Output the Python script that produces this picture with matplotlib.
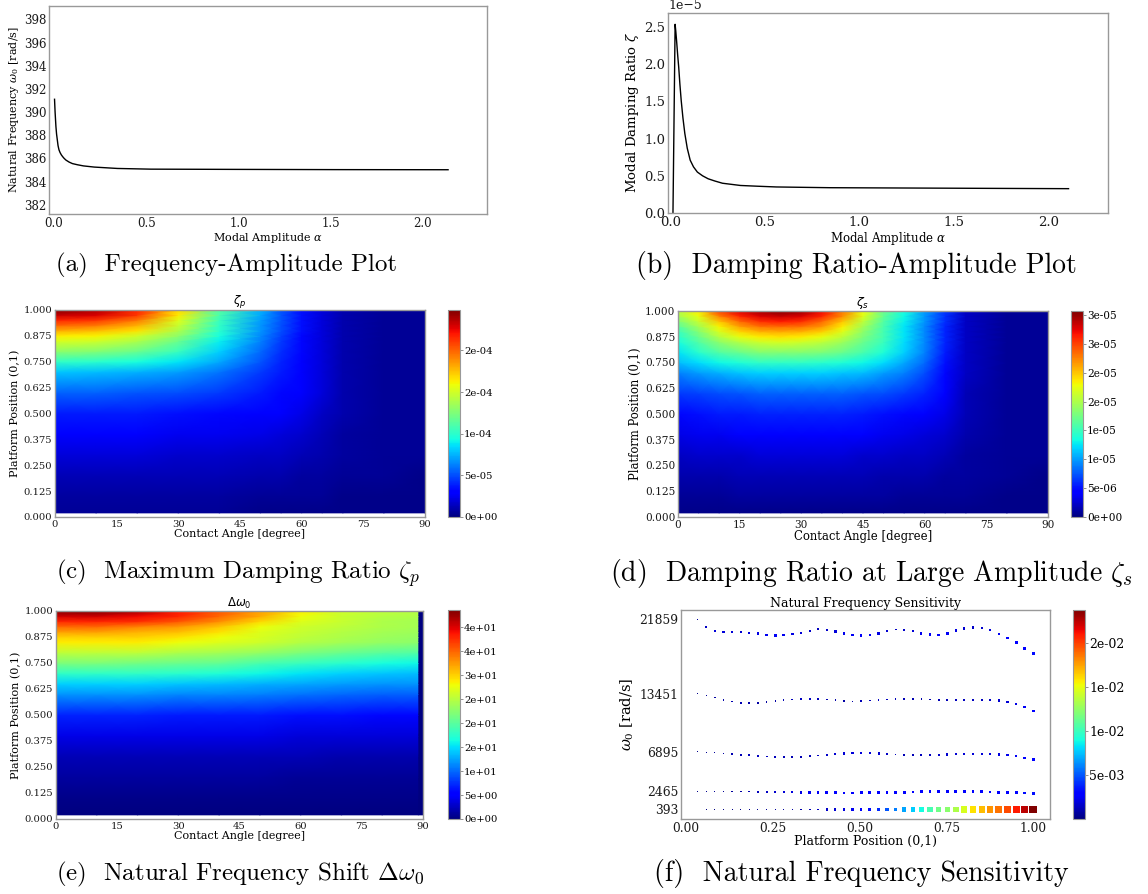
import numpy as np
import matplotlib
matplotlib.use("Agg")
import matplotlib.pyplot as plt

plt.rcParams['font.family'] = 'DejaVu Serif'
plt.rcParams['mathtext.fontset'] = 'dejavuserif'

# ---------------- data ----------------
# (a) frequency vs amplitude
AMP_A = [0.003, 0.006, 0.0105, 0.014, 0.018, 0.022, 0.027, 0.033, 0.040, 0.047, 0.055, 0.065,
         0.082, 0.100, 0.127, 0.160, 0.218, 0.344, 0.525, 0.977, 1.52, 2.136]
FREQ_A = [391.1, 390.0, 388.75, 388.1, 387.6, 387.1, 386.74, 386.5, 386.3, 386.15, 386.0, 385.85,
          385.68, 385.55, 385.45, 385.35, 385.25, 385.13, 385.07, 385.05, 385.03, 385.02]

# (b) damping ratio vs amplitude (units of 1e-5)
AMP_B = [0.0133, 0.0247, 0.028, 0.0323, 0.038, 0.0437, 0.050, 0.057, 0.066, 0.076, 0.089, 0.1045,
         0.122, 0.1425, 0.17, 0.1995, 0.235, 0.2755, 0.3705, 0.46, 0.5604, 0.70, 0.8452, 1.225, 1.605, 2.108]
DAMP_B = [0.0, 2.536, 2.45, 2.32, 2.13, 1.96, 1.73, 1.51, 1.28, 1.07, 0.87, 0.71,
          0.62, 0.55, 0.50, 0.46, 0.43, 0.40, 0.37, 0.36, 0.35, 0.345, 0.34, 0.336, 0.332, 0.327]

# heat maps: platform position nodes (bottom -> top)
POS_HM = [0.02, 0.1, 0.2, 0.3, 0.4, 0.5, 0.6, 0.7, 0.75, 0.8, 0.85, 0.875, 0.9, 0.925, 0.95, 0.975, 1.0]

# (c) maximum damping ratio, as fraction of its peak
ANG_C = [0, 10, 20, 30, 40, 50, 55, 60, 65, 70, 80, 90]
ZETA_P_PEAK = 2.485e-4
ZETA_P_REL = [
    [0.02, 0.02, 0.02, 0.02, 0.02, 0.01, 0.01, 0.01, 0.01, 0.01, 0.01, 0.01],
    [0.03, 0.03, 0.03, 0.03, 0.03, 0.02, 0.02, 0.02, 0.02, 0.01, 0.01, 0.01],
    [0.05, 0.05, 0.05, 0.05, 0.05, 0.04, 0.04, 0.03, 0.03, 0.02, 0.02, 0.01],
    [0.08, 0.08, 0.08, 0.07, 0.07, 0.06, 0.06, 0.05, 0.04, 0.03, 0.02, 0.02],
    [0.11, 0.11, 0.11, 0.10, 0.10, 0.09, 0.08, 0.07, 0.05, 0.03, 0.02, 0.02],
    [0.15, 0.15, 0.15, 0.14, 0.13, 0.12, 0.11, 0.09, 0.06, 0.04, 0.02, 0.02],
    [0.22, 0.22, 0.21, 0.20, 0.18, 0.15, 0.13, 0.11, 0.08, 0.04, 0.02, 0.02],
    [0.32, 0.31, 0.30, 0.28, 0.24, 0.18, 0.15, 0.12, 0.08, 0.04, 0.02, 0.02],
    [0.41, 0.40, 0.38, 0.35, 0.29, 0.21, 0.16, 0.12, 0.08, 0.04, 0.02, 0.02],
    [0.52, 0.51, 0.48, 0.42, 0.33, 0.23, 0.17, 0.13, 0.08, 0.04, 0.02, 0.02],
    [0.61, 0.60, 0.56, 0.48, 0.36, 0.25, 0.18, 0.13, 0.08, 0.04, 0.02, 0.02],
    [0.66, 0.65, 0.60, 0.52, 0.38, 0.26, 0.19, 0.13, 0.08, 0.04, 0.02, 0.02],
    [0.73, 0.71, 0.67, 0.56, 0.40, 0.27, 0.20, 0.14, 0.08, 0.04, 0.02, 0.02],
    [0.80, 0.78, 0.72, 0.59, 0.41, 0.27, 0.20, 0.14, 0.08, 0.04, 0.02, 0.02],
    [0.87, 0.85, 0.78, 0.62, 0.42, 0.28, 0.21, 0.14, 0.08, 0.04, 0.02, 0.02],
    [0.94, 0.92, 0.85, 0.66, 0.44, 0.29, 0.21, 0.14, 0.08, 0.04, 0.02, 0.02],
    [1.00, 0.96, 0.87, 0.68, 0.45, 0.30, 0.21, 0.14, 0.08, 0.04, 0.02, 0.02],
]
CB_C_TICKS = [0, 5e-5, 1e-4, 1.5e-4, 2e-4]
CB_C_LABELS = ['0e+00', '5e-05', '1e-04', '2e-04', '2e-04']

# (d) damping ratio at large amplitude, as fraction of its peak
ANG_D = [0, 5, 10, 15, 20, 25, 30, 35, 40, 45, 50, 55, 60, 65, 70, 80, 90]
ZETA_S_PEAK = 3.57e-5
ZETA_S_REL = [
    [0.01, 0.01, 0.01, 0.01, 0.01, 0.01, 0.01, 0.01, 0.01, 0.01, 0.01, 0.01, 0.01, 0.01, 0.01, 0.01, 0.01],
    [0.02, 0.02, 0.02, 0.03, 0.03, 0.03, 0.03, 0.03, 0.03, 0.03, 0.03, 0.02, 0.02, 0.02, 0.02, 0.01, 0.01],
    [0.04, 0.04, 0.04, 0.05, 0.05, 0.05, 0.05, 0.05, 0.05, 0.05, 0.04, 0.04, 0.04, 0.03, 0.03, 0.02, 0.01],
    [0.06, 0.07, 0.07, 0.07, 0.08, 0.08, 0.08, 0.08, 0.08, 0.07, 0.07, 0.06, 0.06, 0.05, 0.03, 0.02, 0.02],
    [0.09, 0.10, 0.10, 0.11, 0.11, 0.11, 0.11, 0.11, 0.11, 0.11, 0.10, 0.09, 0.08, 0.07, 0.04, 0.02, 0.02],
    [0.13, 0.14, 0.15, 0.15, 0.16, 0.16, 0.16, 0.16, 0.16, 0.15, 0.14, 0.13, 0.12, 0.09, 0.05, 0.02, 0.02],
    [0.18, 0.19, 0.20, 0.21, 0.22, 0.22, 0.22, 0.22, 0.22, 0.21, 0.20, 0.18, 0.16, 0.11, 0.05, 0.02, 0.02],
    [0.25, 0.28, 0.30, 0.32, 0.33, 0.33, 0.33, 0.33, 0.32, 0.31, 0.28, 0.25, 0.20, 0.13, 0.06, 0.02, 0.02],
    [0.31, 0.34, 0.37, 0.39, 0.41, 0.41, 0.41, 0.40, 0.39, 0.37, 0.34, 0.29, 0.23, 0.14, 0.06, 0.02, 0.02],
    [0.35, 0.40, 0.45, 0.48, 0.51, 0.51, 0.51, 0.50, 0.48, 0.44, 0.39, 0.33, 0.25, 0.15, 0.06, 0.02, 0.02],
    [0.38, 0.45, 0.52, 0.57, 0.60, 0.61, 0.60, 0.58, 0.54, 0.48, 0.42, 0.34, 0.26, 0.16, 0.06, 0.02, 0.02],
    [0.40, 0.48, 0.57, 0.63, 0.66, 0.67, 0.66, 0.63, 0.58, 0.50, 0.43, 0.35, 0.26, 0.16, 0.06, 0.02, 0.02],
    [0.42, 0.51, 0.61, 0.68, 0.72, 0.73, 0.72, 0.69, 0.62, 0.52, 0.43, 0.35, 0.26, 0.16, 0.06, 0.02, 0.02],
    [0.46, 0.55, 0.65, 0.74, 0.79, 0.80, 0.79, 0.75, 0.66, 0.55, 0.44, 0.35, 0.26, 0.16, 0.06, 0.02, 0.02],
    [0.50, 0.59, 0.70, 0.80, 0.86, 0.88, 0.86, 0.80, 0.70, 0.58, 0.45, 0.36, 0.27, 0.17, 0.06, 0.02, 0.02],
    [0.55, 0.63, 0.77, 0.87, 0.92, 0.94, 0.92, 0.87, 0.76, 0.62, 0.47, 0.37, 0.27, 0.17, 0.06, 0.02, 0.02],
    [0.58, 0.66, 0.84, 0.92, 0.97, 1.00, 0.98, 0.90, 0.78, 0.64, 0.48, 0.38, 0.28, 0.18, 0.06, 0.02, 0.02],
]
CB_D_TICKS = [0, 5e-6, 1e-5, 1.5e-5, 2e-5, 2.5e-5, 3e-5, 3.5e-5]
CB_D_LABELS = ['0e+00', '5e-06', '1e-05', '1e-05', '2e-05', '2e-05', '3e-05', '3e-05']

# (e) natural frequency shift, as fraction of its peak
ANG_E = [0, 10, 20, 30, 40, 50, 60, 70, 80, 88.9, 89.0, 90]
POS_E = [0.02, 0.1, 0.2, 0.3, 0.4, 0.5, 0.6, 0.65, 0.7, 0.75, 0.8, 0.85, 0.875, 0.9, 0.925, 0.95, 0.975, 1.0]
DW_PEAK = 43.55
DW_REL = [
    [0.00, 0.00, 0.00, 0.00, 0.00, 0.00, 0.00, 0.00, 0.00, 0.00, 0.0, 0.0],
    [0.01, 0.01, 0.01, 0.01, 0.01, 0.01, 0.01, 0.01, 0.01, 0.01, 0.0, 0.0],
    [0.03, 0.03, 0.03, 0.03, 0.03, 0.03, 0.02, 0.02, 0.02, 0.02, 0.0, 0.0],
    [0.05, 0.05, 0.05, 0.05, 0.05, 0.05, 0.05, 0.04, 0.04, 0.04, 0.0, 0.0],
    [0.09, 0.09, 0.09, 0.09, 0.09, 0.09, 0.08, 0.08, 0.08, 0.08, 0.0, 0.0],
    [0.16, 0.16, 0.16, 0.15, 0.15, 0.15, 0.14, 0.14, 0.13, 0.13, 0.0, 0.0],
    [0.27, 0.27, 0.27, 0.26, 0.26, 0.25, 0.24, 0.23, 0.22, 0.22, 0.0, 0.0],
    [0.33, 0.33, 0.33, 0.32, 0.31, 0.30, 0.29, 0.28, 0.27, 0.27, 0.0, 0.0],
    [0.41, 0.41, 0.41, 0.40, 0.39, 0.37, 0.35, 0.33, 0.32, 0.31, 0.0, 0.0],
    [0.50, 0.50, 0.49, 0.48, 0.47, 0.44, 0.42, 0.40, 0.38, 0.37, 0.0, 0.0],
    [0.58, 0.58, 0.58, 0.56, 0.55, 0.53, 0.50, 0.48, 0.46, 0.45, 0.0, 0.0],
    [0.66, 0.66, 0.66, 0.64, 0.62, 0.60, 0.57, 0.55, 0.53, 0.52, 0.0, 0.0],
    [0.69, 0.69, 0.69, 0.67, 0.64, 0.61, 0.58, 0.56, 0.54, 0.53, 0.0, 0.0],
    [0.74, 0.74, 0.72, 0.71, 0.67, 0.62, 0.59, 0.57, 0.55, 0.54, 0.0, 0.0],
    [0.80, 0.80, 0.77, 0.75, 0.70, 0.64, 0.60, 0.58, 0.56, 0.55, 0.0, 0.0],
    [0.87, 0.87, 0.86, 0.82, 0.76, 0.68, 0.62, 0.59, 0.56, 0.55, 0.0, 0.0],
    [0.93, 0.93, 0.90, 0.87, 0.80, 0.73, 0.64, 0.59, 0.57, 0.56, 0.0, 0.0],
    [1.00, 1.00, 0.97, 0.88, 0.82, 0.74, 0.66, 0.60, 0.58, 0.57, 0.0, 0.0],
]
CB_E_TICKS = [0, 5, 10, 15, 20, 25, 30, 35, 40]
CB_E_LABELS = ['0e+00', '5e+00', '1e+01', '2e+01', '2e+01', '2e+01', '3e+01', '4e+01', '4e+01']

# (f) natural frequency sensitivity
F_POS = [0.035, 0.060, 0.084, 0.109, 0.134, 0.159, 0.183, 0.208, 0.233, 0.258,
         0.282, 0.307, 0.332, 0.357, 0.381, 0.406, 0.431, 0.456, 0.480, 0.505,
         0.530, 0.555, 0.579, 0.604, 0.629, 0.654, 0.678, 0.703, 0.728, 0.753,
         0.777, 0.802, 0.827, 0.852, 0.876, 0.901, 0.926, 0.951, 0.975, 1.000]
F_MODE1 = [393, 393, 393, 393, 393, 393, 393, 393, 393, 393,
           393, 393, 393, 393, 393, 393, 393, 393, 393, 393,
           393, 393, 393, 393, 393, 393, 393, 393, 393, 393,
           393, 393, 393, 393, 393, 393, 393, 393, 393, 393]
F_MODE2 = [2465, 2465, 2465, 2465, 2450, 2440, 2427, 2410, 2390, 2370,
           2352, 2340, 2330, 2314, 2300, 2290, 2280, 2276, 2276, 2280,
           2290, 2300, 2314, 2330, 2352, 2370, 2390, 2400, 2410, 2420,
           2420, 2410, 2400, 2390, 2370, 2352, 2330, 2300, 2260, 2201]
F_MODE3 = [6895, 6871, 6795, 6720, 6645, 6569, 6532, 6456, 6381, 6343,
           6306, 6306, 6343, 6419, 6494, 6569, 6645, 6720, 6758, 6795,
           6758, 6720, 6645, 6607, 6569, 6532, 6532, 6532, 6569, 6607,
           6645, 6682, 6682, 6682, 6645, 6607, 6532, 6419, 6230, 6042]
F_MODE4 = [13451, 13273, 13047, 12783, 12595, 12444, 12407, 12444, 12520, 12633,
           12745, 12821, 12858, 12896, 12858, 12821, 12745, 12670, 12595, 12633,
           12708, 12783, 12821, 12858, 12896, 12896, 12858, 12821, 12783, 12745,
           12745, 12745, 12745, 12783, 12783, 12708, 12557, 12294, 11955, 11503]
F_MODE5 = [21859, 21031, 20579, 20428, 20428, 20428, 20353, 20277, 20127, 20052,
           20090, 20202, 20353, 20579, 20767, 20729, 20503, 20277, 20127, 20052,
           20127, 20277, 20541, 20729, 20692, 20541, 20277, 20164, 20127, 20277,
           20617, 20842, 20955, 20880, 20654, 20240, 19750, 19223, 18620, 17980]
S_MODE1 = [0.00008, 0.0001, 0.00015, 0.0002, 0.00025, 0.0003, 0.0004, 0.0005, 0.0006, 0.0007,
           0.0008, 0.0009, 0.0010, 0.0012, 0.0014, 0.0016, 0.0018, 0.0021, 0.0024, 0.0028,
           0.0033, 0.0040, 0.0050, 0.0059, 0.0069, 0.0078, 0.0090, 0.0104, 0.0116, 0.0123,
           0.0133, 0.0145, 0.0159, 0.0168, 0.0178, 0.0187, 0.0197, 0.0209, 0.0225, 0.0237]
S_MODE2 = [0.0003, 0.0004, 0.0005, 0.0006, 0.0008, 0.0009, 0.0011, 0.0013, 0.0015, 0.0017,
           0.0019, 0.0021, 0.0022, 0.0024, 0.0025, 0.0026, 0.0027, 0.0028, 0.0028, 0.0029,
           0.0029, 0.0030, 0.0030, 0.0030, 0.0030, 0.0029, 0.0029, 0.0028, 0.0028, 0.0027,
           0.0027, 0.0027, 0.0028, 0.0028, 0.0029, 0.0030, 0.0031, 0.0032, 0.0033, 0.0034]
S_MODE3 = [0.0004, 0.0005, 0.0007, 0.0009, 0.0011, 0.0012, 0.0013, 0.0014, 0.0014, 0.0013,
           0.0012, 0.0011, 0.0011, 0.0012, 0.0014, 0.0016, 0.0018, 0.0019, 0.0020, 0.0020,
           0.0019, 0.0017, 0.0015, 0.0013, 0.0012, 0.0012, 0.0013, 0.0014, 0.0016, 0.0017,
           0.0018, 0.0019, 0.0019, 0.0019, 0.0020, 0.0021, 0.0023, 0.0025, 0.0027, 0.0029]
S_MODE4 = [0.0003, 0.0005, 0.0008, 0.0010, 0.0011, 0.0011, 0.0010, 0.0009, 0.0008, 0.0009,
           0.0011, 0.0013, 0.0014, 0.0014, 0.0013, 0.0011, 0.0010, 0.0009, 0.0010, 0.0012,
           0.0013, 0.0014, 0.0014, 0.0013, 0.0012, 0.0011, 0.0010, 0.0010, 0.0011, 0.0012,
           0.0013, 0.0014, 0.0014, 0.0014, 0.0015, 0.0017, 0.0019, 0.0022, 0.0025, 0.0028]
S_MODE5 = [0.0008, 0.0015, 0.0020, 0.0020, 0.0019, 0.0018, 0.0020, 0.0022, 0.0024, 0.0025,
           0.0024, 0.0022, 0.0019, 0.0016, 0.0014, 0.0016, 0.0020, 0.0023, 0.0025, 0.0026,
           0.0025, 0.0022, 0.0018, 0.0015, 0.0016, 0.0019, 0.0023, 0.0025, 0.0026, 0.0025,
           0.0022, 0.0018, 0.0016, 0.0017, 0.0020, 0.0024, 0.0027, 0.0029, 0.0031, 0.0033]
F_TICKS = [393, 2465, 6895, 13451, 21859]
CB_F_TICKS = [0.005, 0.01, 0.015, 0.02]
CB_F_LABELS = ['5e-03', '1e-02', '1e-02', '2e-02']

HM_XTICKS = [0, 15, 30, 45, 60, 75, 90]
HM_YTICKS = [0, 0.125, 0.25, 0.375, 0.5, 0.625, 0.75, 0.875, 1.0]

# caption anchors (x, y, text, horizontal alignment, size)
CAPTIONS = [
    (56, 265, '(a)  Frequency-Amplitude Plot', 'left', 18),
    (856, 265, '(b)  Damping Ratio-Amplitude Plot', 'center', 20),
    (56, 573, r'(c)  Maximum Damping Ratio $\zeta_p$', 'left', 18),
    (872, 573, r'(d)  Damping Ratio at Large Amplitude $\zeta_s$', 'center', 20),
    (56, 874, r'(e)  Natural Frequency Shift $\Delta\omega_0$', 'left', 18),
    (861, 874, '(f)  Natural Frequency Sensitivity', 'center', 20),
]

# ---------------- figure ----------------
W, H = 1148, 894
fig = plt.figure(figsize=(W / 100, H / 100), dpi=100)


def box(x0, y0, x1, y1):
    return [x0 / W, 1 - y1 / H, (x1 - x0) / W, (y1 - y0) / H]


SPINE = '0.6'


def style(ax, fs=8):
    for s in ax.spines.values():
        s.set_color(SPINE)
        s.set_linewidth(1.0)
    ax.tick_params(length=0, pad=2, labelsize=fs, colors='0.1')


# (a)
ax = fig.add_axes(box(49, 6, 487, 214))
ax.plot(AMP_A, FREQ_A, color='black', lw=1.0)
ax.set_xlim(-0.027, 2.347)
ax.set_ylim(381.2, 399.15)
ax.set_yticks([382, 384, 386, 388, 390, 392, 394, 396, 398])
ax.set_xticks([0.0, 0.5, 1.0, 1.5, 2.0])
style(ax, 8.5)
ax.set_xlabel(r'Modal Amplitude $\alpha$', fontsize=8, labelpad=1)
ax.set_ylabel(r'Natural Frequency $\omega_0$ [rad/s]', fontsize=8, labelpad=2)

# (b)
ax = fig.add_axes(box(668, 13, 1108, 213))
ax.plot(AMP_B, np.array(DAMP_B) * 1e-5, color='black', lw=1.0)
ax.set_xlim(-0.013, 2.317)
ax.set_ylim(0, 2.688e-5)
ax.set_xticks([0.0, 0.5, 1.0, 1.5, 2.0])
ax.set_yticks([0, 0.5e-5, 1.0e-5, 1.5e-5, 2.0e-5, 2.5e-5])
style(ax, 9.5)
ax.yaxis.get_offset_text().set_fontsize(9)
ax.set_xlabel(r'Modal Amplitude $\alpha$', fontsize=8.5, labelpad=1)
ax.set_ylabel(r'Modal Damping Ratio $\zeta$', fontsize=9.5, labelpad=2)


def heatmap(rect, cbrect, angs, poss, rel, peak, title, ticks, labels, fs):
    ax = fig.add_axes(box(*rect))
    X, Y = np.meshgrid(angs, poss)
    Z = np.array(rel) * peak
    pc = ax.pcolormesh(X, Y, Z, shading='gouraud', cmap='jet', vmin=0, vmax=peak)
    ax.set_xlim(0, 90)
    ax.set_ylim(0, 1)
    ax.set_xticks(HM_XTICKS)
    ax.set_yticks(HM_YTICKS)
    ax.set_yticklabels(['%.3f' % v for v in HM_YTICKS])
    style(ax, fs)
    ax.set_xlabel('Contact Angle [degree]', fontsize=fs + 0.8, labelpad=0)
    ax.set_ylabel('Platform Position (0,1)', fontsize=fs + 0.8, labelpad=2)
    ax.set_title(title, fontsize=fs + 1.3, pad=0.5, math_fontfamily='dejavusans')
    cax = fig.add_axes(box(*cbrect))
    cb = fig.colorbar(pc, cax=cax, ticks=ticks)
    cb.ax.set_yticklabels(labels)
    cb.outline.set_edgecolor(SPINE)
    cb.ax.tick_params(length=2, width=0.6, color='0.5', pad=1, labelsize=fs)
    return ax


heatmap((55, 310, 425, 517), (448, 310, 460, 517), ANG_C, POS_HM, ZETA_P_REL, ZETA_P_PEAK,
        r'$\zeta_p$', CB_C_TICKS, CB_C_LABELS, 7.2)
heatmap((678, 311, 1048, 517), (1071, 311, 1083, 517), ANG_D, POS_HM, ZETA_S_REL, ZETA_S_PEAK,
        r'$\zeta_s$', CB_D_TICKS, CB_D_LABELS, 7.6)
heatmap((56, 611, 423, 819), (448, 610, 460, 819), ANG_E, POS_E, DW_REL, DW_PEAK,
        r'$\Delta\omega_0$', CB_E_TICKS, CB_E_LABELS, 7.2)

# (f)
ax = fig.add_axes(box(681, 610, 1050, 819))
xs = np.concatenate([F_POS] * 5)
ys = np.concatenate([F_MODE1, F_MODE2, F_MODE3, F_MODE4, F_MODE5])
cs = np.concatenate([S_MODE1, S_MODE2, S_MODE3, S_MODE4, S_MODE5])
SIZE_SCALE = 1300
sc = ax.scatter(xs, ys, c=cs, s=cs * SIZE_SCALE, cmap='jet', marker='s', linewidths=0)
ax.set_yticks(F_TICKS)
ax.set_yticklabels([str(v) for v in F_TICKS])
ax.set_xticks([0.0, 0.25, 0.5, 0.75, 1.0])
style(ax, 8.8)
ax.set_xlabel('Platform Position (0,1)', fontsize=9, labelpad=0)
ax.set_ylabel(r'$\omega_0$ [rad/s]', fontsize=10.5, labelpad=2)
ax.set_title('Natural Frequency Sensitivity', fontsize=9, pad=2)
cax = fig.add_axes(box(1073, 610, 1085, 819))
cb = fig.colorbar(sc, cax=cax, ticks=CB_F_TICKS)
cb.ax.set_yticklabels(CB_F_LABELS)
cb.outline.set_edgecolor(SPINE)
cb.ax.tick_params(length=2, width=0.6, color='0.5', pad=1, labelsize=9)

# captions
for x, y, t, ha, fs in CAPTIONS:
    fig.text(x / W, 1 - y / H, t, fontfamily='cmr10', math_fontfamily='cm',
             fontsize=fs, ha=ha, va='center')

fig.savefig('out.png', dpi=100)
